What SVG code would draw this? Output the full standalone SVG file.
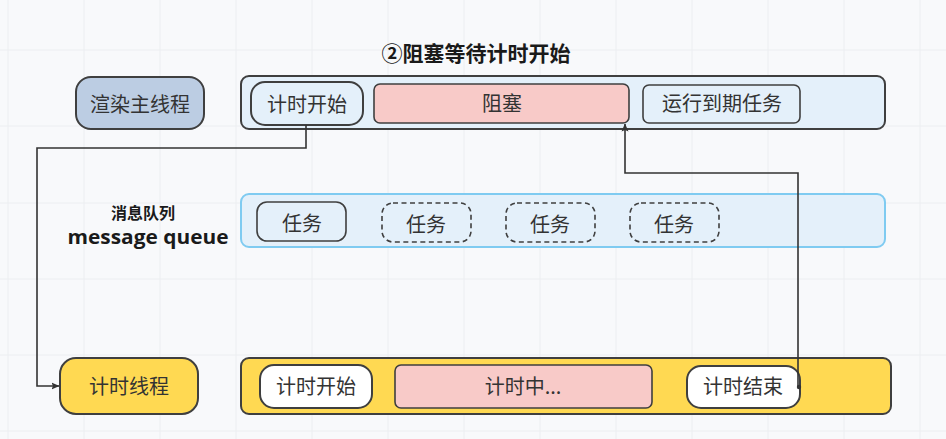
<svg xmlns="http://www.w3.org/2000/svg" width="946" height="439" viewBox="0 0 946 439">
<style>
  .grid line{stroke:#eceef1;stroke-width:1}
  .cn{font-family:"Noto Sans CJK SC","Noto Sans",sans-serif;font-size:20px;fill:#333;text-anchor:middle}
  .b{stroke:#3f3f3f;stroke-width:2}
  .bt{stroke:#3f3f3f;stroke-width:1.6}
  .lb{fill:#e4f0fa}
  .pk{fill:#f8cac8}
  .yl{fill:#ffd952}
  .wh{fill:#ffffff}
  .dash{fill:none;stroke:#3f3f3f;stroke-width:1.6;stroke-dasharray:5 3.5}
  .conn{fill:none;stroke:#333;stroke-width:1.6}
</style>
<defs>
  <marker id="arr" viewBox="0 0 8 8" refX="7.5" refY="4" markerWidth="8" markerHeight="8" markerUnits="userSpaceOnUse" orient="auto">
    <path d="M0,0.5 L8,4 L0,7.5 L1.5,4 Z" fill="#333"/>
  </marker>
</defs>
<rect width="946" height="439" fill="#f8f9fb"/>
<g class="grid">
  <line x1="8" y1="0" x2="8" y2="439"/><line x1="84" y1="0" x2="84" y2="439"/><line x1="160" y1="0" x2="160" y2="439"/>
  <line x1="236" y1="0" x2="236" y2="439"/><line x1="312" y1="0" x2="312" y2="439"/><line x1="388" y1="0" x2="388" y2="439"/>
  <line x1="464" y1="0" x2="464" y2="439"/><line x1="540" y1="0" x2="540" y2="439"/><line x1="616" y1="0" x2="616" y2="439"/>
  <line x1="692" y1="0" x2="692" y2="439"/><line x1="768" y1="0" x2="768" y2="439"/><line x1="844" y1="0" x2="844" y2="439"/>
  <line x1="920" y1="0" x2="920" y2="439"/>
  <line x1="0" y1="50" x2="946" y2="50"/><line x1="0" y1="126" x2="946" y2="126"/><line x1="0" y1="203" x2="946" y2="203"/>
  <line x1="0" y1="279" x2="946" y2="279"/><line x1="0" y1="355" x2="946" y2="355"/><line x1="0" y1="431" x2="946" y2="431"/>
</g>

<text x="476" y="61" font-family="'Noto Sans CJK SC','Noto Sans',sans-serif" font-size="21" font-weight="bold" fill="#1a1a1a" text-anchor="middle">②阻塞等待计时开始</text>

<g id="render-thread">
  <rect x="76" y="77" width="128" height="52" rx="15" fill="#bccde3" class="b"/>
  <text class="cn" x="140" y="112">渲染主线程</text>
</g>
<g id="render-lane">
  <rect x="241" y="76" width="644" height="53" rx="8" class="lb b"/>
</g>
<g id="r-start">
  <rect x="251" y="82" width="112" height="43" rx="14" class="lb b"/>
  <text class="cn" x="307" y="112">计时开始</text>
</g>
<g id="r-block">
  <rect x="374" y="84" width="255" height="39" rx="6" class="pk bt"/>
  <text class="cn" x="502" y="111">阻塞</text>
</g>
<g id="r-run">
  <rect x="643" y="85" width="157" height="38" rx="6" class="lb bt"/>
  <text class="cn" x="722" y="111">运行到期任务</text>
</g>

<g id="mq-label">
  <text x="143" y="219" font-family="'Noto Sans CJK SC','Noto Sans',sans-serif" font-size="16" font-weight="bold" fill="#1a1a1a" text-anchor="middle">消息队列</text>
  <text x="148" y="244" font-family="'Open Sans','Noto Sans',sans-serif" font-size="19" font-weight="bold" fill="#1a1a1a" text-anchor="middle" textLength="161" lengthAdjust="spacingAndGlyphs">message queue</text>
</g>
<g id="mq-lane">
  <rect x="241" y="194" width="644" height="53" rx="8" fill="#e4f0fa" stroke="#7fcbf1" stroke-width="2"/>
</g>
<g id="task1">
  <rect x="257" y="202" width="89" height="39" rx="10" class="lb bt"/>
  <text class="cn" x="302" y="231">任务</text>
</g>
<g id="task2">
  <rect x="382" y="203" width="89" height="39" rx="11" class="dash"/>
  <text class="cn" x="426" y="232">任务</text>
</g>
<g id="task3">
  <rect x="506" y="203" width="89" height="39" rx="11" class="dash"/>
  <text class="cn" x="550" y="232">任务</text>
</g>
<g id="task4">
  <rect x="630" y="203" width="89" height="39" rx="11" class="dash"/>
  <text class="cn" x="674" y="232">任务</text>
</g>

<g id="timer-thread">
  <rect x="60" y="358" width="138" height="56" rx="16" class="yl b"/>
  <text class="cn" x="129" y="394">计时线程</text>
</g>
<g id="timer-lane">
  <rect x="241" y="358" width="650" height="56" rx="8" class="yl b"/>
</g>
<g id="t-start">
  <rect x="260" y="365" width="112" height="43" rx="14" class="wh b"/>
  <text class="cn" x="316" y="394">计时开始</text>
</g>
<g id="t-running">
  <rect x="395" y="365" width="257" height="43" rx="6" class="pk bt"/>
  <text class="cn" x="523" y="394">计时中...</text>
</g>
<g id="t-end">
  <rect x="687" y="366" width="113" height="42" rx="14" class="wh b"/>
  <text class="cn" x="743" y="394">计时结束</text>
</g>

<g id="connectors">
  <polyline class="conn" points="306,125 306,148 37,148 37,386 59,386" marker-end="url(#arr)"/>
  <polyline class="conn" points="798,387 798,173 625,173 625,124" marker-end="url(#arr)"/>
  <circle cx="799" cy="387" r="2.2" fill="#333"/>
</g>
</svg>
